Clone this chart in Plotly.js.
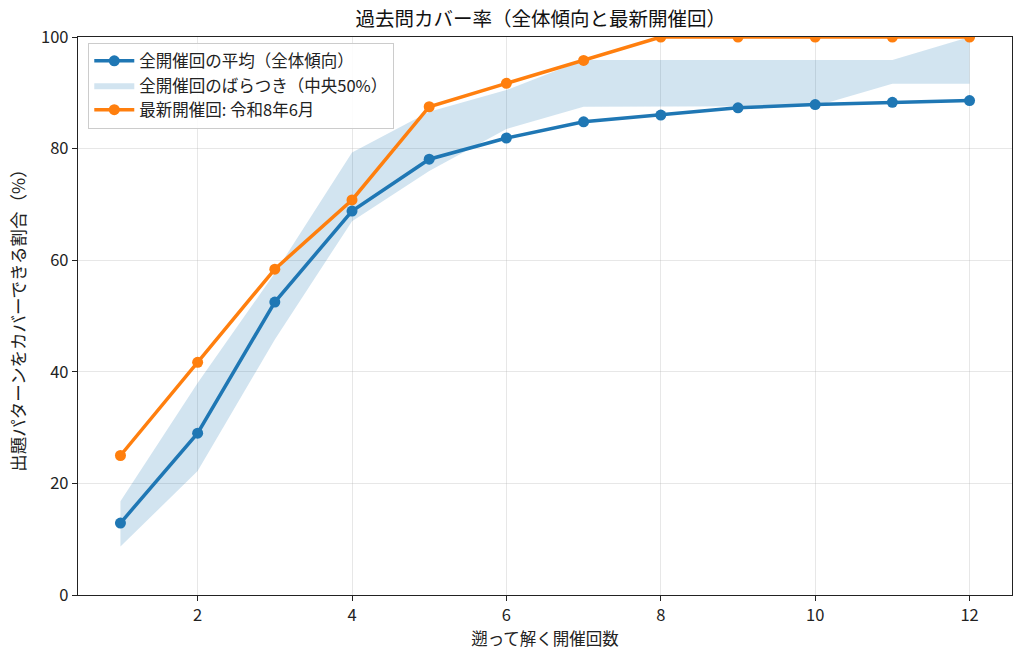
<!DOCTYPE html>
<html>
<head>
<meta charset="utf-8">
<script src="https://cdn.plot.ly/plotly-3.0.1.min.js"></script>
<style>
  html, body { margin: 0; padding: 0; background: #fff; }
  #chart { width: 1024px; height: 657px; }
</style>
</head>
<body>
<div id="chart"></div>
<script>
// 遡って解く開催回数
var rounds = [1, 2, 3, 4, 5, 6, 7, 8, 9, 10, 11, 12];
// 全開催回の平均
var meanCover = [12.9, 29.0, 52.5, 68.8, 78.1, 81.9, 84.8, 86.0, 87.3, 87.9, 88.3, 88.6];
// 中央50% (25%〜75%)
var q25Cover = [8.7, 22.2, 45.8, 67.0, 76.0, 83.5, 87.5, 87.5, 87.5, 87.6, 91.6, 91.6];
var q75Cover = [16.8, 38.0, 57.7, 79.3, 86.6, 90.5, 95.9, 95.9, 95.9, 95.9, 95.9, 100];
// 最新開催回: 令和8年6月
var latestCover = [25.0, 41.7, 58.4, 70.8, 87.5, 91.7, 95.8, 100, 100, 100, 100, 100];

var xTicks = [2, 4, 6, 8, 10, 12];
var yTicks = [0, 20, 40, 60, 80, 100];

var font = '"Noto Sans CJK JP", "DejaVu Sans", sans-serif';
var blue = '#1f77b4', orange = '#ff7f0e';

var lower = {
  x: rounds, y: q25Cover, mode: 'lines', line: {width: 0, color: blue},
  showlegend: false, hoverinfo: 'skip', type: 'scatter'
};
var band = {
  x: rounds, y: q75Cover, mode: 'lines', fill: 'tonexty',
  fillcolor: 'rgba(31,119,180,0.2)', line: {width: 0, color: blue},
  name: '全開催回のばらつき（中央50%）', legendrank: 2, type: 'scatter'
};
var mean = {
  x: rounds, y: meanCover, mode: 'lines+markers',
  line: {color: blue, width: 3.5}, marker: {color: blue, size: 11},
  name: '全開催回の平均（全体傾向）', legendrank: 1, type: 'scatter'
};
var latest = {
  x: rounds, y: latestCover, mode: 'lines+markers',
  line: {color: orange, width: 3.5}, marker: {color: orange, size: 11},
  name: '最新開催回: 令和8年6月', legendrank: 3, type: 'scatter'
};

var layout = {
  width: 1024, height: 657,
  margin: {l: 78, r: 12, t: 37, b: 62},
  paper_bgcolor: '#fff', plot_bgcolor: '#fff',
  font: {family: font, size: 16.5, color: '#222'},
  title: {text: '過去問カバー率（全体傾向と最新開催回）', font: {size: 19.5, color: '#111'},
          x: 0.528, xanchor: 'center', y: 0.971, yanchor: 'middle'},
  xaxis: {
    range: [0.45, 12.55], tickvals: xTicks, ticks: 'outside', ticklen: 5,
    tickcolor: '#222', showline: true, mirror: true, linecolor: '#222', linewidth: 1.2,
    showgrid: true, gridcolor: 'rgba(176,176,176,0.3)', zeroline: false,
    title: {text: '遡って解く開催回数', font: {size: 16.5}, standoff: 6}
  },
  yaxis: {
    range: [0, 100], tickvals: yTicks, ticks: 'outside', ticklen: 5,
    tickcolor: '#222', showline: true, mirror: true, linecolor: '#222', linewidth: 1.2,
    showgrid: true, gridcolor: 'rgba(176,176,176,0.3)', zeroline: false,
    title: {text: '出題パターンをカバーできる割合（%）', font: {size: 17.5}, standoff: 10}
  },
  legend: {
    x: 0.011, y: 0.99, xanchor: 'left', yanchor: 'top',
    traceorder: 'normal', itemwidth: 40,
    bgcolor: 'rgba(255,255,255,0.85)', bordercolor: '#cccccc', borderwidth: 1,
    font: {size: 16.5}, tracegroupgap: 0
  },
  showlegend: true
};

Plotly.newPlot('chart', [lower, band, mean, latest], layout, {staticPlot: true});
</script>
</body>
</html>
